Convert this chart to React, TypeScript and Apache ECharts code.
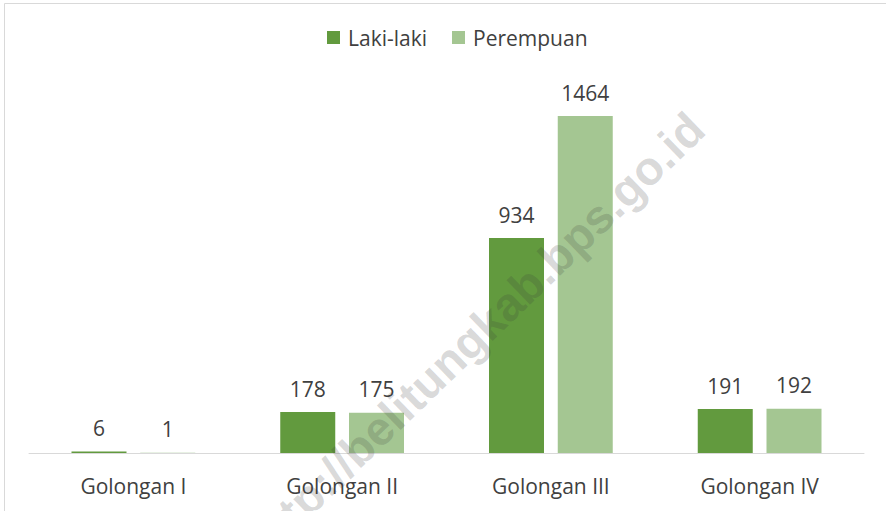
import React, { useEffect, useRef } from "react";
import * as echarts from "echarts";

const categories = ["Golongan I", "Golongan II", "Golongan III", "Golongan IV"];
const lakiLaki = [6, 178, 934, 191];
const perempuan = [1, 175, 1464, 192];
const seriesNames = ["Laki-laki", "Perempuan"];
const watermarkText = "http://belitungkab.bps.go.id";

const FONT = "'Open Sans', 'Noto Sans', sans-serif";
const TEXT_COLOR = "#404040";

export default function App() {
  const ref = useRef<HTMLDivElement>(null);
  useEffect(() => {
    document.body.style.margin = "0";
    const chart = echarts.init(ref.current!, null, { renderer: "svg" });
    const label = {
      show: true,
      position: "top",
      distance: 13,
      color: TEXT_COLOR,
      fontSize: 21,
      fontFamily: FONT,
    };
    chart.setOption({
      animation: false,
      backgroundColor: "#ffffff",
      legend: {
        left: 322,
        top: 22,
        itemWidth: 13,
        itemHeight: 13,
        itemGap: 25,
        icon: "rect",
        textStyle: { color: TEXT_COLOR, fontSize: 21, fontFamily: FONT, padding: [0, 0, 0, 3] },
        data: seriesNames,
      },
      grid: { left: 29, right: 22, top: 84.7, bottom: 58 },
      xAxis: {
        type: "category",
        data: categories,
        axisLine: { lineStyle: { color: "#d9d9d9", width: 1 } },
        axisTick: { show: false },
        axisLabel: { color: TEXT_COLOR, fontSize: 21, fontFamily: FONT, margin: 22 },
      },
      yAxis: {
        type: "value",
        min: 0,
        max: 1600,
        show: false,
        splitLine: { show: false },
      },
      series: [
        {
          name: seriesNames[0],
          type: "bar",
          data: lakiLaki,
          barWidth: 55,
          barGap: "25%",
          itemStyle: { color: "#629A3E" },
          label,
        },
        {
          name: seriesNames[1],
          type: "bar",
          data: perempuan,
          barWidth: 55,
          itemStyle: { color: "#A4C692" },
          label,
        },
      ],
      graphic: [
        {
          type: "rect",
          shape: { x: 4.5, y: 3.5, width: 1000, height: 1000 },
          style: { fill: "none", stroke: "#d9d9d9", lineWidth: 1 },
          silent: true,
          z: 0,
        },
        {
          type: "text",
          x: 475,
          y: 335,
          rotation: (44 * Math.PI) / 180,
          z: 100,
          silent: true,
          style: {
            text: watermarkText,
            fill: "rgba(60,60,60,0.2)",
            font: "bold 47px 'Liberation Sans', Arial, sans-serif",
            align: "center",
            verticalAlign: "middle",
          },
        },
      ],
    });
    return () => chart.dispose();
  }, []);
  return <div ref={ref} style={{ width: 886, height: 511 }} />;
}
